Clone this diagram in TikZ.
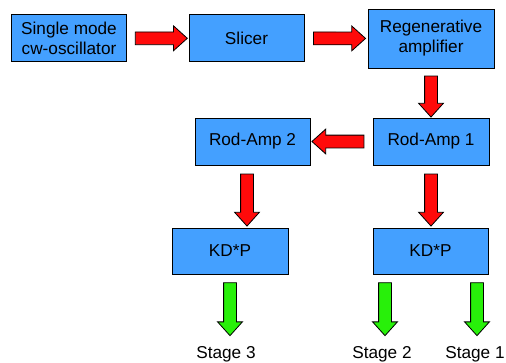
\documentclass[tikz,border=0pt]{standalone}
\usepackage{fontspec}
\setmainfont{Liberation Sans}
\usepackage{tikz}
\usetikzlibrary{calc,
	positioning,
	shapes,
	shapes.arrows
}
\definecolor{boxblue}{RGB}{68,160,255}
\definecolor{arrowred}{RGB}{255,10,10}
\definecolor{arrowgreen}{RGB}{40,240,10}
\tikzset{Laser/.style = {
		x=1pt, y=-1pt,
		box/.style = {rectangle, draw, line width=0.8pt, fill=boxblue,
			inner sep=0pt, align=center, minimum width=115pt, minimum height=47pt,
			font=\fontsize{17.2}{20}\selectfont
		},
		stagelabel/.style = {inner sep=9pt, text height=12pt,
			font=\fontsize{17.2}{20}\selectfont
		},
		fatarrow/.style = {single arrow, draw, line width=0.8pt,
			inner sep=6pt, single arrow head extend=6pt, single arrow tip angle=84,
			minimum height=52pt, sloped, allow upside down, midway
		},
		redarrow/.style = {fatarrow, fill=arrowred},
		greenarrow/.style = {fatarrow, fill=arrowgreen, minimum height=53pt}
	}% end of Laser style
}
\begin{document}
\begin{tikzpicture}[Laser] % {{{-3
  \useasboundingbox (0,0) rectangle (506,362);
  \node[box] (Osc) at (69,38.3) {Single mode\\cw-oscillator};
  \node[box] (Slicer) at (246.5,38.3) {Slicer};
  \node[box, minimum width=126pt, minimum height=59pt] (Regen) at (431,38.5) {Regenerative\\amplifier};
  \node[box, minimum width=116pt] (Rod1) at (431,141.5) {Rod-Amp 1};
  \node[box] (Rod2) at (252.5,141.5) {Rod-Amp 2};
  \node[box, minimum width=116pt, minimum height=46pt] (KDP2) at (230,251) {KD*P};
  \node[box, minimum height=46pt] (KDP1) at (430.5,251) {KD*P};
  \node[stagelabel, anchor=base] (St3) at (226,358) {Stage 3};
  \node[stagelabel, anchor=base] (St2) at (382,358) {Stage 2};
  \node[stagelabel, anchor=base] (St1) at (475,358) {Stage 1};

  \path (Osc) -- node[redarrow] {} (Slicer);
  \path (Slicer) -- node[redarrow] {} (Regen);
  \path (Regen.south) -- node[redarrow, minimum height=41pt] {} (Regen.south |- Rod1.north);
  \path (Rod1) -- node[redarrow] {} (Rod2);
  \path ([xshift=-5.5pt]Rod2.south) -- node[redarrow] {} ([xshift=-5.5pt]Rod2.south |- KDP2.north);
  \path (Rod1.south) -- node[redarrow] {} (Rod1.south |- KDP1.north);

  \path (KDP2.south) -- node[greenarrow] {} (KDP2.south |- St3.north);
  \path ([xshift=-45.5pt]KDP1.south) -- node[greenarrow] {} ([xshift=-45.5pt]KDP1.south |- St2.north);
  \path ([xshift=46.5pt]KDP1.south) -- node[greenarrow] {} ([xshift=46.5pt]KDP1.south |- St1.north);
\end{tikzpicture}
\end{document}
